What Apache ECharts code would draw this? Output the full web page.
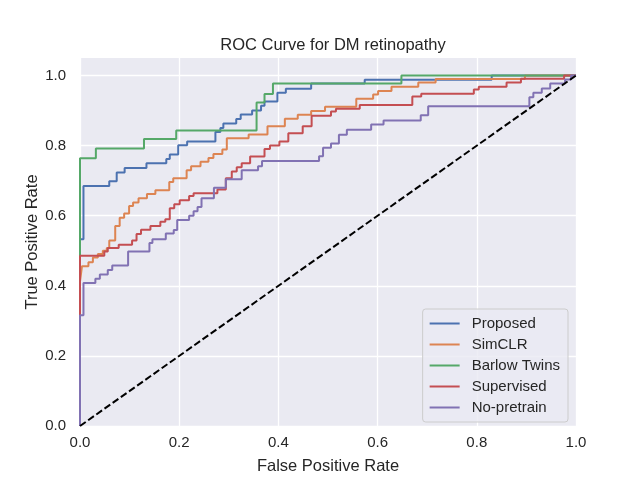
<!DOCTYPE html>
<html>
<head>
<meta charset="utf-8">
<script src="https://cdn.jsdelivr.net/npm/echarts@6/dist/echarts.min.js"></script>
<style>
    html, body { margin: 0; padding: 0; background: #ffffff; }
    #roc-chart { width: 640px; height: 480px; }
</style>
</head>
<body>
<div id="roc-chart"></div>
<script>
// ------------------------------
// Data (FPR where TPR steps up, TPR after the step)
// ------------------------------
var seriesNames = ['Proposed', 'SimCLR', 'Barlow Twins', 'Supervised', 'No-pretrain'];
var xTicks = [0, 0.2, 0.4, 0.6, 0.8, 1.0];
var yTicks = [0, 0.2, 0.4, 0.6, 0.8, 1.0];

var fprProposed = [0, 0, 0.007, 0.059, 0.074, 0.090, 0.134, 0.174, 0.181, 0.198, 0.216, 0.273, 0.283, 0.289, 0.315, 0.324, 0.347, 0.365, 0.372, 0.398, 0.415, 0.466, 0.574, 0.830, 1.0];
var tprProposed = [0, 0.533, 0.685, 0.698, 0.723, 0.736, 0.750, 0.762, 0.775, 0.801, 0.812, 0.839, 0.850, 0.863, 0.876, 0.889, 0.900, 0.914, 0.926, 0.951, 0.962, 0.977, 0.988, 1.0, 1.0];

var fprSimclr = [0, 0, 0.004, 0.017, 0.026, 0.036, 0.046, 0.054, 0.059, 0.071, 0.080, 0.089, 0.099, 0.107, 0.118, 0.135, 0.152, 0.180, 0.188, 0.215, 0.224, 0.243, 0.259, 0.269, 0.287, 0.296, 0.340, 0.378, 0.413, 0.439, 0.466, 0.494, 0.557, 0.591, 0.601, 0.628, 0.682, 0.717, 0.897, 1.0];
var tprSimclr = [0, 0.412, 0.456, 0.467, 0.481, 0.491, 0.500, 0.508, 0.529, 0.571, 0.594, 0.606, 0.628, 0.638, 0.650, 0.662, 0.673, 0.696, 0.707, 0.730, 0.741, 0.754, 0.765, 0.776, 0.789, 0.821, 0.832, 0.855, 0.877, 0.888, 0.899, 0.911, 0.934, 0.946, 0.956, 0.968, 0.980, 0.990, 1.0, 1.0];

var fprBarlow = [0, 0, 0.032, 0.129, 0.194, 0.356, 0.372, 0.389, 0.648, 1.0];
var tprBarlow = [0, 0.764, 0.792, 0.819, 0.843, 0.923, 0.947, 0.977, 1.0, 1.0];

var fprSupervised = [0, 0, 0.049, 0.056, 0.078, 0.105, 0.114, 0.123, 0.142, 0.162, 0.172, 0.181, 0.190, 0.201, 0.220, 0.229, 0.277, 0.294, 0.306, 0.316, 0.326, 0.343, 0.372, 0.383, 0.402, 0.420, 0.449, 0.467, 0.506, 0.516, 0.564, 0.670, 0.688, 0.794, 0.804, 0.860, 0.889, 0.976, 1.0];
var tprSupervised = [0, 0.486, 0.498, 0.508, 0.517, 0.529, 0.548, 0.560, 0.571, 0.583, 0.590, 0.621, 0.633, 0.644, 0.656, 0.664, 0.675, 0.707, 0.726, 0.738, 0.750, 0.769, 0.790, 0.800, 0.812, 0.835, 0.855, 0.885, 0.897, 0.905, 0.916, 0.940, 0.948, 0.960, 0.968, 0.980, 0.991, 1.0, 1.0];

var fprNoPretrain = [0, 0, 0.007, 0.031, 0.040, 0.056, 0.065, 0.097, 0.140, 0.146, 0.173, 0.189, 0.196, 0.220, 0.229, 0.237, 0.245, 0.270, 0.294, 0.326, 0.359, 0.367, 0.482, 0.490, 0.506, 0.522, 0.538, 0.587, 0.612, 0.687, 0.702, 0.906, 0.914, 0.931, 0.948, 0.978, 0.990, 1.0];
var tprNoPretrain = [0, 0.316, 0.408, 0.420, 0.432, 0.445, 0.458, 0.498, 0.522, 0.533, 0.549, 0.559, 0.588, 0.600, 0.613, 0.625, 0.650, 0.680, 0.704, 0.730, 0.741, 0.756, 0.770, 0.794, 0.806, 0.831, 0.845, 0.860, 0.872, 0.887, 0.912, 0.938, 0.951, 0.963, 0.977, 0.989, 1.0, 1.0];

var chanceLine = [[0, 0], [1, 1]];

var fprList = [fprProposed, fprSimclr, fprBarlow, fprSupervised, fprNoPretrain];
var tprList = [tprProposed, tprSimclr, tprBarlow, tprSupervised, tprNoPretrain];

// seaborn "deep" palette
var colors = ['#4c72b0', '#dd8452', '#55a868', '#c44e52', '#8172b3'];
var textColor = '#262626';
var fontFamily = '"Liberation Sans", Arial, sans-serif';

function pairs(xs, ys) {
    var out = [];
    for (var i = 0; i < xs.length; i++) {
        out.push([xs[i], ys[i]]);
    }
    return out;
}

var rocChart = echarts.init(document.getElementById('roc-chart'));

var series = seriesNames.map(function (name, i) {
    return {
        name: name,
        type: 'line',
        step: 'end',
        symbol: 'none',
        data: pairs(fprList[i], tprList[i]),
        lineStyle: { color: colors[i], width: 2 },
        itemStyle: { color: colors[i] },
        z: 3
    };
});

// dashed chance diagonal, drawn on top
series.push({
    name: 'chance',
    type: 'line',
    symbol: 'none',
    data: chanceLine,
    lineStyle: { color: '#000000', width: 2, type: [7, 3] },
    z: 4
});

var option = {
    animation: false,
    backgroundColor: '#ffffff',
    textStyle: { fontFamily: fontFamily },

    // Title
    title: {
        text: 'ROC Curve for DM retinopathy',
        left: 328,
        top: 32,
        textAlign: 'center',
        textStyle: { color: textColor, fontSize: 16.5, fontWeight: 'normal', fontFamily: fontFamily }
    },

    // Setup grid
    grid: {
        left: 80,
        right: 64,
        top: 58,
        bottom: 53,
        show: true,
        backgroundColor: '#eaeaf2',
        borderWidth: 0
    },

    // Legend
    legend: {
        data: seriesNames,
        orient: 'vertical',
        right: 72,
        bottom: 58,
        icon: 'rect',
        itemWidth: 30,
        itemHeight: 2,
        itemGap: 6,
        padding: [7, 8, 7, 7],
        backgroundColor: 'rgba(234,234,242,0.8)',
        borderColor: '#cccccc',
        borderWidth: 1,
        borderRadius: 3,
        textStyle: { color: textColor, fontSize: 15, fontFamily: fontFamily, padding: [0, 0, 0, 7] }
    },

    // Horizontal axis
    xAxis: {
        type: 'value',
        min: xTicks[0],
        max: xTicks[xTicks.length - 1],
        interval: 0.2,
        name: 'False Positive Rate',
        nameLocation: 'middle',
        nameGap: 32,
        nameTextStyle: { color: textColor, fontSize: 16.5, fontFamily: fontFamily },
        axisLine: { show: false },
        axisTick: { show: false },
        axisLabel: {
            color: textColor,
            fontSize: 15,
            margin: 9,
            formatter: function (v) { return v.toFixed(1); }
        },
        splitLine: { show: true, lineStyle: { color: '#ffffff', width: 1.3 } }
    },

    // Vertical axis
    yAxis: {
        type: 'value',
        min: yTicks[0],
        max: 1.05,
        interval: 0.2,
        name: 'True Positive Rate',
        nameLocation: 'middle',
        nameGap: 39,
        nameMoveOverlap: false,
        nameTextStyle: { color: textColor, fontSize: 16.5, fontFamily: fontFamily },
        axisLine: { show: false },
        axisTick: { show: false },
        axisLabel: {
            color: textColor,
            fontSize: 15,
            margin: 14,
            showMaxLabel: false,
            formatter: function (v) { return v.toFixed(1); }
        },
        splitLine: { show: true, showMaxLine: false, lineStyle: { color: '#ffffff', width: 1.3 } }
    },

    series: series
};

rocChart.setOption(option);
</script>
</body>
</html>
